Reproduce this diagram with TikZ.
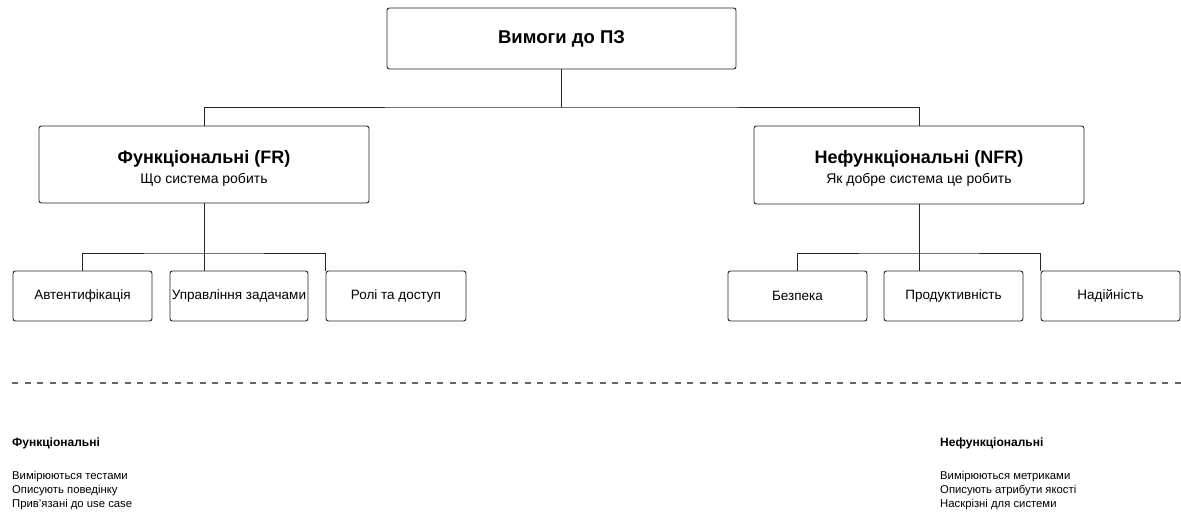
\documentclass[tikz,border=0pt]{standalone}
\usepackage{fontspec}
\setmainfont{Liberation Sans}
\usetikzlibrary{calc}
\begin{document}
\begin{tikzpicture}[x=1pt,y=-1pt,
  box/.style={draw=black!85,line width=0.9pt,rounded corners=2.5pt,fill=white,inner sep=0pt},
  link/.style={draw=black!85,line width=0.9pt},
  leaf/.style={box,minimum width=139pt,minimum height=50pt,font=\fontsize{13.5}{16}\selectfont},
  caption/.style={inner sep=0pt},
  note/.style={anchor=west,inner sep=0pt,font=\fontsize{11.3}{13}\selectfont}]
\useasboundingbox (0,0) rectangle (1181,519);
% root
\node[box,minimum width=349pt,minimum height=61pt,font=\fontsize{18.5}{22}\selectfont\bfseries] (root) at (561.5,38.5) {Вимоги до ПЗ};
% two groups
\node[box,minimum width=330pt,minimum height=77pt] (fr) at (204,164.5) {};
\node[box,minimum width=330pt,minimum height=78pt] (nfr) at (919,165) {};
\node[caption,font=\fontsize{18}{21}\selectfont\bfseries] (frt) at (204,158.5) {Функціональні (FR)};
\node[caption,font=\fontsize{14}{17}\selectfont] (frs) at (204,180) {Що система робить};
\node[caption,font=\fontsize{18}{21}\selectfont\bfseries] (nfrt) at (919,158.5) {Нефункціональні (NFR)};
\node[caption,font=\fontsize{14}{17}\selectfont] (nfrs) at (919,180) {Як добре система це робить};
% leaves
\node[leaf] (f1) at (82.5,296) {Автентифікація};
\node[leaf,minimum width=138pt] (f2) at (239,296) {Управління задачами};
\node[leaf,minimum width=140pt] (f3) at (396,296) {Ролі та доступ};
\node[leaf] (n1) at (797.5,296) {Безпека};
\node[leaf] (n2) at (953.5,296) {Продуктивність};
\node[leaf] (n3) at (1110.5,296) {Надійність};
% connectors
\coordinate (j) at (561.5,107);
\coordinate (fj) at (204,253);
\coordinate (nj) at (919,253);
\draw[link] (root.south) -- (j);
\draw[link] (fr.north) |- (j) -| (nfr.north);
\draw[link] (fr.south) -- (fr.south |- f2.north);
\draw[link] (f1.north) |- (fj) -| (f3.north west);
\draw[link] (nfr.south) -- (nfr.south |- n2.north);
\draw[link] (n1.north) |- (nj) -| (n3.north west);
% separator
\coordinate (sl) at (12,383);
\coordinate (sr) at (1181,383);
\draw[draw=black!60,line width=1.2pt,dash pattern=on 6pt off 6.5pt] (sl) -- (sr);
% notes
\node[note,font=\fontsize{12}{14}\selectfont\bfseries] (lh) at (12,443) {Функціональні};
\node[note] (l1) at (12,477) {Вимірюються тестами};
\node[note] (l2) at (12,491) {Описують поведінку};
\node[note] (l3) at (12,505) {Прив’язані до use case};
\node[note,font=\fontsize{12}{14}\selectfont\bfseries] (rh) at (940,443) {Нефункціональні};
\node[note] (r1) at (940,477) {Вимірюються метриками};
\node[note] (r2) at (940,491) {Описують атрибути якості};
\node[note] (r3) at (940,505) {Наскрізні для системи};
\end{tikzpicture}
\end{document}
